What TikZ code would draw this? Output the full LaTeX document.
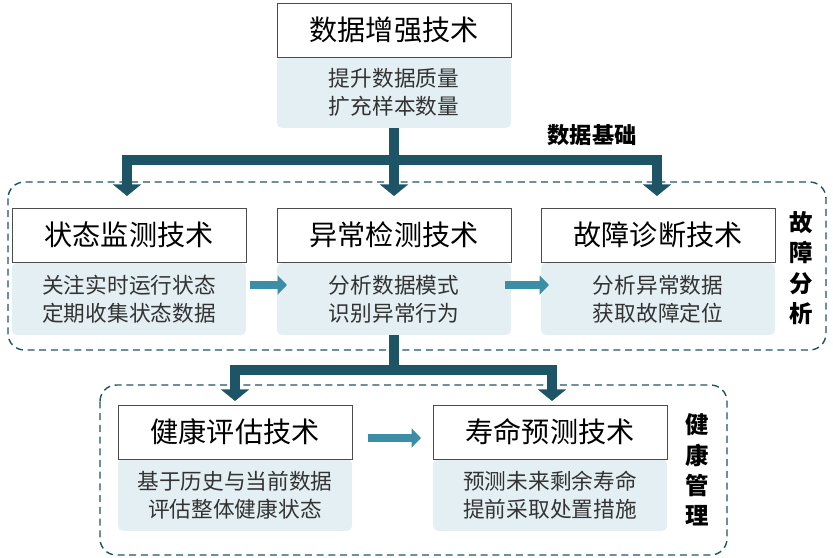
\documentclass[tikz,border=0pt]{standalone}
\usepackage{fontspec}
\newfontfamily\cjk{Noto Sans CJK SC}
\usetikzlibrary{arrows.meta, positioning}
\definecolor{basedark}{HTML}{1E5566}
\definecolor{baselight}{HTML}{3C8EA6}
\definecolor{descfill}{HTML}{E4EFF3}

\begin{document}
\begin{tikzpicture}[x=0.03cm, y=-0.03cm,
        every node/.style={font=\cjk},
        title/.style={draw=black!70, fill=white, line width=0.8pt,
            minimum width=7.02cm, minimum height=1.62cm, font=\cjk\fontsize{24}{28}\selectfont},
        desc/.style={fill=descfill, rounded corners=4pt, minimum width=7.02cm, text=black!80,
            minimum height=2.15cm, align=center, font=\cjk\fontsize{18.5}{24}\selectfont},
        region/.style={draw=basedark, line width=1.2pt, dash pattern=on 6pt off 4pt, rounded corners=14pt},
        side/.style={align=center, font=\cjk\bfseries\fontsize{20}{26}\selectfont},
        bigarrow/.style={draw=basedark, line width=9pt, -{Triangle[length=10pt, width=24pt]}},
        bar/.style={draw=basedark, line width=9pt},
        flow/.style={draw=baselight, line width=6pt, -{Triangle[length=8pt, width=16pt]}}]

        \useasboundingbox (0,0) rectangle (833,558);

        % regions
        \draw[region] (8,182) rectangle (826,350);
        \draw[region] (100,385) rectangle (727,555);

        % top block
        \node[desc] (augdesc) at (394,92) {提升数据质量\\扩充样本数量};
        \node[title] (aug) at (394,30) {数据增强技术};

        % row two
        \node[desc] (monitordesc) at (129,299) {关注实时运行状态\\定期收集状态数据};
        \node[title] (monitor) at (129,235) {状态监测技术};
        \node[desc] (anomalydesc) at (394,299) {分析数据模式\\识别异常行为};
        \node[title] (anomaly) at (394,235) {异常检测技术};
        \node[desc] (diagdesc) at (658,299) {分析异常数据\\获取故障定位};
        \node[title] (diag) at (658,235) {故障诊断技术};

        % row three
        \node[desc] (healthdesc) at (235,495) {基于历史与当前数据\\评估整体健康状态};
        \node[title] (health) at (235,432) {健康评估技术};
        \node[desc] (lifedesc) at (550,495) {预测未来剩余寿命\\提前采取处置措施};
        \node[title] (life) at (550,432) {寿命预测技术};

        % labels
        \node[font=\cjk\bfseries\fontsize{19}{23}\selectfont] (base) at (592,135) {数据基础};
        \node[side] (fault) at (801,268) {故\\障\\分\\析};
        \node[side] (manage) at (697,470) {健\\康\\管\\理};

        % connectors
        \coordinate (split1) at (394,160);
        \coordinate (split2) at (394,370);
        \coordinate (left1) at (127,160);
        \coordinate (right1) at (657,160);
        \coordinate (left2) at (235,370);
        \coordinate (right2) at (552,370);
        \draw[bar] (augdesc.south) -- (split1);
        \draw[bar] ([xshift=-4.5pt]left1) -- ([xshift=4.5pt]right1);
        \draw[bigarrow] (left1) -- (127,196);
        \draw[bigarrow] (split1) -- (394,196);
        \draw[bigarrow] (right1) -- (657,196);
        \draw[bar] (anomalydesc.south) -- (split2);
        \draw[bar] ([xshift=-4.5pt]left2) -- ([xshift=4.5pt]right2);
        \draw[bigarrow] (left2) -- (235,401);
        \draw[bigarrow] (right2) -- (552,401);
        \draw[flow] (250,285) -- (287,285);
        \draw[flow] (505,285) -- (549,285);
        \draw[flow] (368,438) -- (421,438);
\end{tikzpicture}
\end{document}
